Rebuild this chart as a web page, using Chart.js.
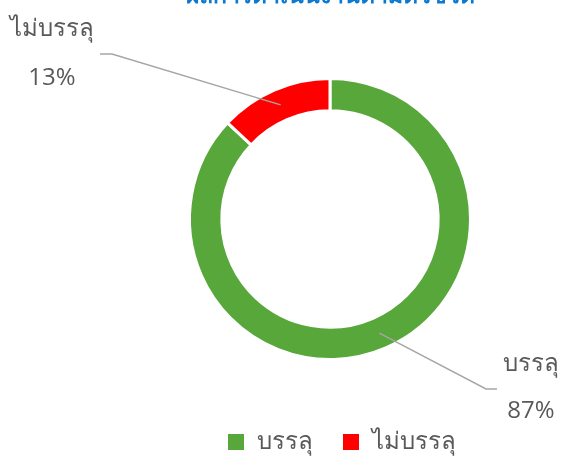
<!DOCTYPE html>
<html>
<head>
<meta charset="utf-8">
<script src="https://cdn.jsdelivr.net/npm/chart.js@4"></script>
<style>
  html, body { margin: 0; padding: 0; background: #fff; }
  #wrap { width: 564px; height: 464px; position: relative; }
</style>
</head>
<body>
<div id="wrap"><canvas id="c" width="564" height="464"></canvas></div>
<script>
const titleText = "ผลการดำเนินงานตามตัวชี้วัด";
const categories = ["บรรลุ", "ไม่บรรลุ"];
const percents = [87, 13];
const colors = ["#57A73B", "#FF0000"];

const FONT = "'Open Sans', 'Noto Sans', 'DejaVu Sans', sans-serif";
const TEXT = "#595959";

// labels and leader lines, title and legend drawn by hand
const annotate = {
	id: "annotate",
	afterDraw(chart) {
		const ctx = chart.ctx;
		const arcs = chart.getDatasetMeta(0).data;
		const spots = [
			{ x: 531, nameY: 364, pctY: 411, elbowX: 486, elbowY: 389, endX: 497 },
			{ x: 52, nameY: 29, pctY: 78, elbowX: 112, elbowY: 54, endX: 100 },
		];
		ctx.save();
		arcs.forEach((arc, i) => {
			const p = arc.getProps(["x", "y", "startAngle", "endAngle", "innerRadius", "outerRadius"], true);
			const mid = (p.startAngle + p.endAngle) / 2;
			const r = (p.innerRadius + p.outerRadius) / 2;
			const ax = p.x + Math.cos(mid) * r;
			const ay = p.y + Math.sin(mid) * r;
			const s = spots[i];
			ctx.strokeStyle = "#A6A6A6";
			ctx.lineWidth = 1.5;
			ctx.beginPath();
			ctx.moveTo(ax, ay);
			ctx.lineTo(s.elbowX, s.elbowY);
			ctx.lineTo(s.endX, s.elbowY);
			ctx.stroke();

			ctx.fillStyle = TEXT;
			ctx.textAlign = "center";
			ctx.textBaseline = "middle";
			ctx.font = "24px " + FONT;
			ctx.fillText(categories[i], s.x, s.nameY);
			ctx.fillText(percents[i] + "%", s.x, s.pctY);
		});

		// legend
		ctx.font = "24px " + FONT;
		ctx.textAlign = "left";
		ctx.textBaseline = "middle";
		const ly = 442;
		let lx = 228;
		categories.forEach((name, i) => {
			ctx.fillStyle = colors[i];
			ctx.fillRect(lx, ly - 8, 16, 16);
			ctx.fillStyle = TEXT;
			ctx.fillText(name, lx + 29, ly);
			lx += 29 + ctx.measureText(name).width + 30;
		});

		// title, mostly cut off by the top edge
		ctx.fillStyle = "#0B78D1";
		ctx.font = "bold 23px " + FONT;
		ctx.textAlign = "center";
		ctx.textBaseline = "alphabetic";
		ctx.fillText(titleText, 330, 3);
		ctx.restore();
	}
};

new Chart(document.getElementById("c"), {
	type: "doughnut",
	data: {
		labels: categories,
		datasets: [{
			data: percents,
			backgroundColor: colors,
			borderColor: "#fff",
			borderWidth: 3,
			hoverOffset: 0,
		}],
	},
	options: {
		responsive: false,
		animation: false,
		cutout: "77%",
		layout: { padding: { left: 188, right: 92, top: 77, bottom: 103 } },
		plugins: {
			legend: { display: false },
			tooltip: { enabled: false },
		},
	},
	plugins: [annotate],
});
</script>
</body>
</html>
